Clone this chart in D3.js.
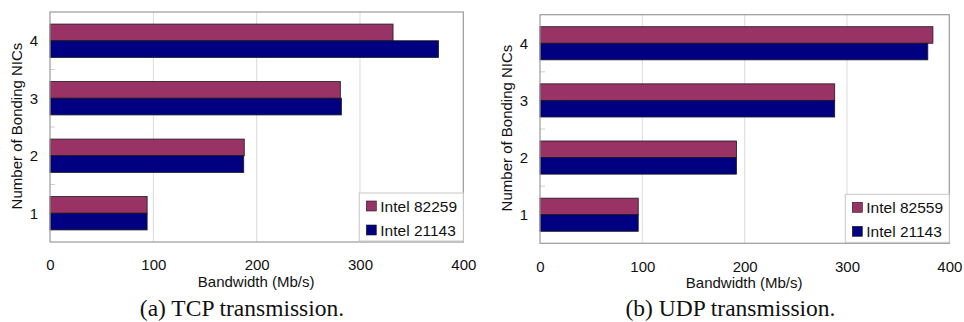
<!DOCTYPE html>
<html>
<head>
<meta charset="utf-8">
<script src="https://cdn.jsdelivr.net/npm/d3@7"></script>
<style>
  html, body { margin: 0; padding: 0; background: #fff; }
  svg { display: block; }
</style>
</head>
<body>
<svg id="chart" width="964" height="322"></svg>
<script>
// Bonding NIC counts (category axis)
const nics = ["1", "2", "3", "4"];
const xTicks = [0, 100, 200, 300, 400];

// TCP bandwidth (Mb/s)
const tcpSeriesNames = ["Intel 82259", "Intel 21143"];
const tcp82259 = [94, 188, 281, 332];
const tcp21143 = [94, 187.5, 282, 376];

// UDP bandwidth (Mb/s)
const udpSeriesNames = ["Intel 82559", "Intel 21143"];
const udp82559 = [96, 192, 288, 384];
const udp21143 = [96, 192, 288, 379];

const seriesColors = ["#993366", "#000080"];
const sans = "Liberation Sans, Arial, sans-serif";

const svg = d3.select("#chart");

function panel(opts) {
  const { left, right, top, bottom, names, a, b, caption, captionX } = opts;
  const g = svg.append("g");

  const x = d3.scaleLinear().domain([0, 400]).range([left, right]);
  const y = d3.scaleBand().domain(nics.slice().reverse()).range([top, bottom])
    .paddingInner(0.42).paddingOuter(0.21);
  const sub = d3.scaleBand().domain([0, 1]).range([0, y.bandwidth()]);
  const band = d3.scaleBand().domain(nics.slice().reverse()).range([top, bottom]);

  // vertical gridlines
  g.append("g").selectAll("line").data(xTicks.slice(1, -1)).join("line")
    .attr("x1", d => x(d)).attr("x2", d => x(d))
    .attr("y1", top).attr("y2", bottom)
    .attr("stroke", "#dcdcdc").attr("stroke-width", 1);

  // small category separators on the value axis
  g.append("g").selectAll("line").data(nics.slice(0, -1)).join("line")
    .attr("x1", left).attr("x2", left + 5)
    .attr("y1", d => band(d)).attr("y2", d => band(d))
    .attr("stroke", "#cfcfcf").attr("stroke-width", 1);

  // bars
  const rows = nics.map((c, i) => ({ c, vals: [a[i], b[i]] }));
  g.append("g").selectAll("g").data(rows).join("g")
    .attr("transform", d => `translate(0,${y(d.c)})`)
    .selectAll("rect").data(d => d.vals.map((v, k) => ({ v, k }))).join("rect")
    .attr("x", x(0))
    .attr("y", d => sub(d.k))
    .attr("width", d => x(d.v) - x(0))
    .attr("height", sub.bandwidth())
    .attr("fill", d => seriesColors[d.k])
    .attr("stroke", "#1a1a1a").attr("stroke-width", 0.8);

  // plot frame
  g.append("rect")
    .attr("x", left).attr("y", top)
    .attr("width", right - left).attr("height", bottom - top)
    .attr("fill", "none").attr("stroke", "#9a9a9a").attr("stroke-width", 1.2);

  // x axis labels
  const xAxis = d3.axisBottom(x).tickValues(xTicks).tickSize(0).tickPadding(0);
  const xa = g.append("g").attr("transform", `translate(0,${bottom + 23})`).call(xAxis);
  xa.select(".domain").remove();
  xa.selectAll("text").attr("font-family", sans)
    .attr("font-size", 15).attr("fill", "#111").attr("dy", "0.35em");

  // y axis labels
  const yAxis = d3.axisLeft(band).tickSize(0).tickPadding(0);
  const ya = g.append("g").attr("transform", `translate(${left - 16},0)`).call(yAxis);
  ya.select(".domain").remove();
  ya.selectAll("text").attr("font-family", sans)
    .attr("font-size", 15).attr("fill", "#111").attr("dy", "0.35em")
    .attr("text-anchor", "middle");

  // axis titles
  g.append("text")
    .attr("x", (left + right) / 2 - 0.5).attr("y", bottom + 45)
    .attr("text-anchor", "middle")
    .attr("font-family", sans)
    .attr("font-size", 15).attr("fill", "#111")
    .text("Bandwidth (Mb/s)");

  g.append("text")
    .attr("transform", `translate(${left - 33},${(top + bottom) / 2 - 1}) rotate(-90)`)
    .attr("text-anchor", "middle").attr("dy", "0.35em")
    .attr("font-family", sans)
    .attr("font-size", 15).attr("fill", "#111")
    .text("Number of Bonding NICs");

  // legend
  const lw = 104, lh = 48;
  const lx = right - lw, ly = bottom - lh - 1;
  const lg = g.append("g").attr("transform", `translate(${lx},${ly})`);
  lg.append("rect").attr("width", lw).attr("height", lh)
    .attr("fill", "#fff").attr("stroke", "#c8c8c8").attr("stroke-width", 1);
  const items = lg.selectAll("g").data(names).join("g")
    .attr("transform", (d, i) => `translate(7,${8 + i * 24})`);
  items.append("rect").attr("width", 10).attr("height", 10)
    .attr("fill", (d, i) => seriesColors[i])
    .attr("stroke", "#1a1a1a").attr("stroke-width", 0.6);
  items.append("text").attr("x", 14).attr("y", 5).attr("dy", "0.36em")
    .attr("font-family", sans)
    .attr("font-size", 15.5).attr("fill", "#111")
    .text(d => d);

  // caption
  svg.append("text")
    .attr("x", captionX).attr("y", 316)
    .attr("text-anchor", "middle")
    .attr("font-family", "Liberation Serif, Times New Roman, serif")
    .attr("font-size", 23.5).attr("fill", "#111")
    .text(caption);
}

panel({
  left: 50, right: 463.3, top: 12, bottom: 242,
  names: tcpSeriesNames, a: tcp82259, b: tcp21143,
  caption: "(a) TCP transmission.", captionX: 242
});

panel({
  left: 540, right: 949.3, top: 14.7, bottom: 243.3,
  names: udpSeriesNames, a: udp82559, b: udp21143,
  caption: "(b) UDP transmission.", captionX: 730.5
});
</script>
</body>
</html>
